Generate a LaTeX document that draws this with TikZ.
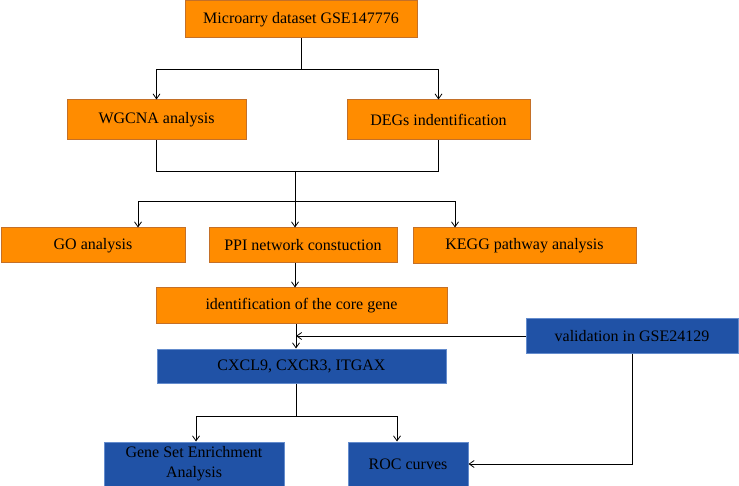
\documentclass[tikz,border=0pt]{standalone}
\usepackage{fontspec}
\setmainfont{Liberation Serif}
\usetikzlibrary{arrows.meta}
\definecolor{ofill}{RGB}{255,140,0}
\definecolor{oedge}{RGB}{196,112,40}
\definecolor{bfill}{RGB}{32,82,166}
\definecolor{bedge}{RGB}{100,140,205}
\tikzset{
  box/.style={draw, line width=1pt, inner sep=0pt, align=center, font=\fontsize{16}{20}\selectfont, text=black},
  obox/.style={box, fill=ofill, draw=oedge},
  bbox/.style={box, fill=bfill, draw=bedge},
  conn/.style={draw=black, line width=0.8pt},
  arr/.style={conn, -{Straight Barb[length=5pt,width=7pt]}}
}
\begin{document}
\begin{tikzpicture}[x=1pt,y=-1pt]
\useasboundingbox (0,0) rectangle (739,486);
\node[obox, minimum width=232, minimum height=37] (m) at (301,19.5) {Microarry dataset GSE147776};
\node[obox, minimum width=179, minimum height=40] (wg) at (156.5,120) {WGCNA analysis};
\node[obox, minimum width=183, minimum height=40] (deg) at (438.5,120) {DEGs indentification};
\node[obox, minimum width=184, minimum height=35] (go) at (93,245.5) {GO analysis};
\node[obox, minimum width=188, minimum height=35] (ppi) at (303,245.5) {PPI network constuction};
\node[obox, minimum width=223, minimum height=36] (kegg) at (524.5,246) {KEGG pathway analysis};
\node[obox, minimum width=291, minimum height=36] (core) at (301.5,306) {identification of the core gene};
\node[bbox, minimum width=212, minimum height=34] (val) at (632,336) {validation in GSE24129};
\node[bbox, minimum width=289, minimum height=34] (cx) at (301.5,366) {CXCL9, CXCR3, ITGAX};
\node[bbox, minimum width=180, minimum height=44] (gsea) at (194,464) {Gene Set Enrichment\\Analysis};
\node[bbox, minimum width=120, minimum height=44] (roc) at (408,464) {ROC curves};
% junction coordinates
\coordinate (j1) at (301,69);
\coordinate (j2) at (295,171);
\coordinate (j3) at (295,201);
\coordinate (j4) at (296,336);
\coordinate (j5) at (296,416);
% level 1
\draw[conn] (m.south) -- (j1);
\draw[arr] (j1) -| (wg.north);
\draw[arr] (j1) -| (deg.north);
% level 2 merge
\draw[conn] (wg.south) |- (j2);
\draw[conn] (deg.south) |- (j2);
\draw[conn] (j2) -- (j3);
\draw[arr] (j3) -| ([xshift=45pt]go.north);
\draw[arr] (j3) -- (j3 |- ppi.north);
\draw[arr] (j3) -| ([xshift=-69.5pt]kegg.north);
% ppi to core
\draw[arr] (j3 |- ppi.south) -- (j3 |- core.north);
% core to cx
\draw[arr] (j4 |- core.south) -- (j4 |- cx.north);
\draw[arr] (val.west) -- (j4);
% cx to outputs
\draw[conn] (j5 |- cx.south) -- (j5);
\draw[arr] (j5) -| ([xshift=2pt]gsea.north);
\draw[arr] (j5) -| ([xshift=-11pt]roc.north);
% validation to roc
\draw[arr] (val.south) |- (roc.east);
\end{tikzpicture}
\end{document}
